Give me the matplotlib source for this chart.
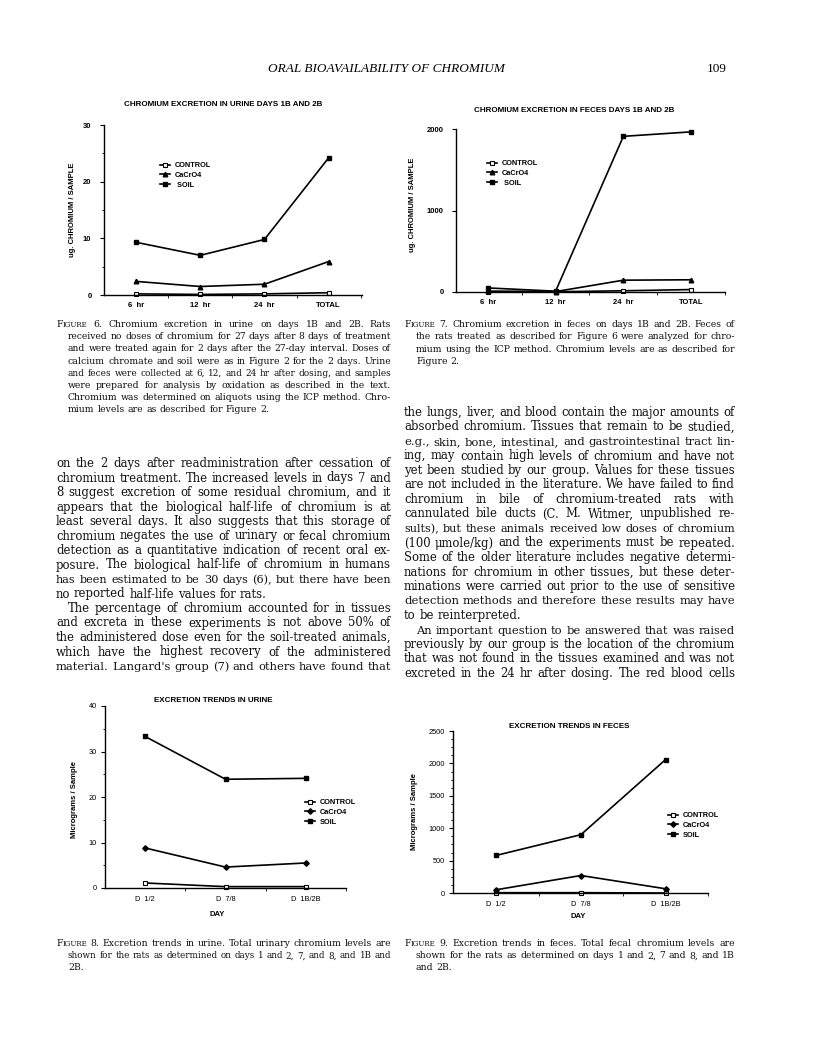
import matplotlib
matplotlib.use('Agg')
import matplotlib.pyplot as plt
from matplotlib.ticker import MultipleLocator, FixedLocator
import numpy as np

W, H = 816, 1043

# ---- data ----
hours = ['6  hr', '12  hr', '24  hr', 'TOTAL']
urine_control = [0.2, 0.1, 0.2, 0.4]
urine_cacro4 = [2.4, 1.5, 1.9, 5.9]
urine_soil = [9.3, 7.0, 9.8, 24.2]

feces_control = [5, 3, 15, 30]
feces_cacro4 = [10, 5, 145, 150]
feces_soil = [50, 10, 1910, 1965]

days = ['D  1/2', 'D  7/8', 'D  1B/2B']
trend_urine_control = [1.1, 0.3, 0.3]
trend_urine_cacro4 = [8.8, 4.6, 5.5]
trend_urine_soil = [33.3, 23.9, 24.1]

trend_feces_control = [5, 5, 0]
trend_feces_cacro4 = [50, 270, 65]
trend_feces_soil = [580, 900, 2060]

# ---- page text ----
header = 'ORAL BIOAVAILABILITY OF CHROMIUM'
page_no = '109'

cap6 = ['FIGURE 6. Chromium excretion in urine on days 1B and 2B. Rats',
        'received no doses of chromium for 27 days after 8 days of treatment',
        'and were treated again for 2 days after the 27-day interval. Doses of',
        'calcium chromate and soil were as in Figure 2 for the 2 days. Urine',
        'and feces were collected at 6, 12, and 24 hr after dosing, and samples',
        'were prepared for analysis by oxidation as described in the text.',
        'Chromium was determined on aliquots using the ICP method. Chro-',
        'mium levels are as described for Figure 2.']
cap7 = ['FIGURE 7. Chromium excretion in feces on days 1B and 2B. Feces of',
        'the rats treated as described for Figure 6 were analyzed for chro-',
        'mium using the ICP method. Chromium levels are as described for',
        'Figure 2.']
cap8 = ['FIGURE 8. Excretion trends in urine. Total urinary chromium levels are',
        'shown for the rats as determined on days 1 and 2, 7, and 8, and 1B and',
        '2B.']
cap9 = ['FIGURE 9. Excretion trends in feces. Total fecal chromium levels are',
        'shown for the rats as determined on days 1 and 2, 7 and 8, and 1B',
        'and 2B.']

body_left = ['on the 2 days after readministration after cessation of',
             'chromium treatment. The increased levels in days 7 and',
             '8 suggest excretion of some residual chromium, and it',
             'appears that the biological half-life of chromium is at',
             'least several days. It also suggests that this storage of',
             'chromium negates the use of urinary or fecal chromium',
             'detection as a quantitative indication of recent oral ex-',
             'posure. The biological half-life of chromium in humans',
             'has been estimated to be 30 days (6), but there have been',
             'no reported half-life values for rats.',
             'The percentage of chromium accounted for in tissues',
             'and excreta in these experiments is not above 50% of',
             'the administered dose even for the soil-treated animals,',
             'which have the highest recovery of the administered',
             "material. Langard's group (7) and others have found that"]
body_right = ['the lungs, liver, and blood contain the major amounts of',
              'absorbed chromium. Tissues that remain to be studied,',
              'e.g., skin, bone, intestinal, and gastrointestinal tract lin-',
              'ing, may contain high levels of chromium and have not',
              'yet been studied by our group. Values for these tissues',
              'are not included in the literature. We have failed to find',
              'chromium in bile of chromium-treated rats with',
              'cannulated bile ducts (C. M. Witmer, unpublished re-',
              'sults), but these animals received low doses of chromium',
              '(100 \u03bcmole/kg) and the experiments must be repeated.',
              'Some of the older literature includes negative determi-',
              'nations for chromium in other tissues, but these deter-',
              'minations were carried out prior to the use of sensitive',
              'detection methods and therefore these results may have',
              'to be reinterpreted.',
              'An important question to be answered that was raised',
              'previously by our group is the location of the chromium',
              'that was not found in the tissues examined and was not',
              'excreted in the 24 hr after dosing. The red blood cells']

fig = plt.figure(figsize=(W / 100, H / 100), dpi=100)
fig.patch.set_facecolor('white')
renderer = fig.canvas.get_renderer()

SERIF = 'DejaVu Serif'
SANS = 'Liberation Sans'
SC = 0.76  # small caps scale for FIGURE


def fx(x):
    return x / W


def fy(y):
    return 1 - y / H


def measure(txt, size):
    t = fig.text(0, 0, txt, fontsize=size, family=SERIF)
    w = t.get_window_extent(renderer).width
    t.remove()
    return w


def word_parts(w, size):
    if w == 'FIGURE':
        return [('F', size), ('IGURE', size * SC)]
    return [(w, size)]


def natural(line, size):
    words = line.split()
    sp = measure('a a', size) - measure('aa', size)
    tot = 0
    for w in words:
        for txt, s in word_parts(w, size):
            tot += measure(txt, s)
    return tot + sp * (len(words) - 1)


def put_line(line, x0, x1, y, size, justify):
    # draw a line word by word so it can be justified between x0 and x1
    sp = measure('a a', size) - measure('aa', size)
    if justify and natural(line, size) > (x1 - x0) * 0.995:
        size = size * (x1 - x0) * 0.99 / natural(line, size)
        sp = measure('a a', size) - measure('aa', size)
    groups = []
    for w in line.split():
        arts = []
        width = 0
        for txt, s in word_parts(w, size):
            t = fig.text(0, fy(y), txt, fontsize=s, family=SERIF,
                         ha='left', va='baseline', color='#111111')
            arts.append((t, width))
            width += t.get_window_extent(renderer).width
        groups.append((arts, width))
    total = sum(g[1] for g in groups)
    if justify and len(groups) > 1:
        gap = (x1 - x0 - total) / (len(groups) - 1)
    else:
        gap = sp
    x = x0
    for arts, width in groups:
        for t, off in arts:
            t.set_x(fx(x + off))
        x += width + gap


def left_edge(i, x0, hang, indents):
    left = x0 + (hang if i > 0 else 0)
    if i in indents:
        left += 12
    return left


def fit_size(blocks, s0=10.0, q=30):
    # size at which a typical justified line fills its column
    ratios = []
    for lines, x0, x1, hang, last_lines, indents in blocks:
        for i, line in enumerate(lines):
            if i in last_lines:
                continue
            avail = x1 - left_edge(i, x0, hang, indents)
            ratios.append(avail / natural(line, s0))
    return s0 * np.percentile(ratios, q)


def paragraph(lines, x0, x1, y0, step, size, hang=0, last_lines=(),
              indents=()):
    for i, line in enumerate(lines):
        put_line(line, left_edge(i, x0, hang, indents), x1, y0 + i * step,
                 size, i not in last_lines)


LX0, LX1 = 56, 391
RX0, RX1 = 404, 735

cap_blocks = [(cap6, LX0, LX1, 12, (7,), ()),
              (cap7, RX0, RX1, 12, (3,), ()),
              (cap8, LX0, LX1, 12, (2,), ()),
              (cap9, RX0, RX1, 12, (2,), ())]
body_blocks = [(body_left, LX0, LX1, 0, (9,), (10,)),
               (body_right, RX0, RX1, 0, (14,), (15,))]
cap_size = fit_size(cap_blocks)
body_size = fit_size(body_blocks)

fig.text(fx(386), fy(72), header, fontsize=9.5, family='Liberation Serif',
         style='italic', ha='center', va='baseline')
fig.text(fx(727), fy(72), page_no, fontsize=9.5, family='Liberation Serif',
         ha='right', va='baseline')

paragraph(cap6, LX0, LX1, 327, 12.2, cap_size, hang=12, last_lines=(7,))
paragraph(cap7, RX0, RX1, 327, 12.3, cap_size, hang=12, last_lines=(3,))
paragraph(cap8, LX0, LX1, 946, 12.2, cap_size, hang=12, last_lines=(2,))
paragraph(cap9, RX0, RX1, 946, 12.2, cap_size, hang=12, last_lines=(2,))
paragraph(body_left, LX0, LX1, 467, 14.5, body_size, last_lines=(9,),
          indents=(10,))
paragraph(body_right, RX0, RX1, 416, 14.5, body_size, last_lines=(14,),
          indents=(15,))


def add_ax(x0, x1, ytop, ybot):
    ax = fig.add_axes([fx(x0), fy(ybot), (x1 - x0) / W, (ybot - ytop) / H])
    for s in ['top', 'right']:
        ax.spines[s].set_visible(False)
    for s in ['left', 'bottom']:
        ax.spines[s].set_linewidth(1.0)
    ax.patch.set_alpha(0)
    return ax


def plot_series(ax, x, control, cacro, soil, cac_marker, cac_ms, soil_label):
    ax.plot(x, control, '-', color='black', lw=1.2, marker='s', ms=3.2,
            mfc='white', mec='black', mew=0.8, label='CONTROL', clip_on=False)
    ax.plot(x, cacro, '-', color='black', lw=1.2, marker=cac_marker,
            ms=cac_ms, mfc='black', mec='black', label='CaCrO4',
            clip_on=False)
    ax.plot(x, soil, '-', color='black', lw=1.2, marker='s', ms=3.5,
            mfc='black', mec='black', label=soil_label, clip_on=False)


def legend(ax, left, top):
    ax.legend(loc='upper left', bbox_to_anchor=(fx(left), fy(top)),
              bbox_transform=fig.transFigure, frameon=False,
              handlelength=1.3, handletextpad=0.7, labelspacing=0.35,
              borderpad=0, borderaxespad=0,
              prop={'family': SANS, 'weight': 'bold', 'size': 5.3})


# ---- Figure 6: urine ----
ax6 = add_ax(104, 362, 125, 295)
x = list(range(len(hours)))
plot_series(ax6, x, urine_control, urine_cacro4, urine_soil, '^', 3.3,
            ' SOIL')
ax6.set_xlim(-0.5, 3.52)
ax6.set_ylim(0, 30)
ax6.set_yticks([0, 10, 20, 30])
ax6.yaxis.set_minor_locator(MultipleLocator(5))
ax6.set_xticks(x)
ax6.set_xticklabels(hours)
ax6.xaxis.set_minor_locator(FixedLocator([0.5, 1.5, 2.5, 3.5]))
legend(ax6, 160, 162)
fig.text(fx(223), fy(105), 'CHROMIUM EXCRETION IN URINE DAYS 1B AND 2B',
         fontsize=5.8, family=SANS, weight='bold', ha='center', va='center')
fig.text(fx(73), fy(210), 'ug. CHROMIUM / SAMPLE', fontsize=5.5,
         family=SANS, weight='bold', rotation=90, ha='center', va='center')

# ---- Figure 7: feces ----
ax7 = add_ax(456, 725, 129, 292)
plot_series(ax7, x, feces_control, feces_cacro4, feces_soil, '^', 3.3,
            ' SOIL')
ax7.set_xlim(-0.47, 3.5)
ax7.set_ylim(0, 2000)
ax7.set_yticks([0, 1000, 2000])
ax7.set_xticks(x)
ax7.set_xticklabels(hours)
ax7.xaxis.set_minor_locator(FixedLocator([0.5, 1.5, 2.5, 3.5]))
legend(ax7, 487, 160)
fig.text(fx(574), fy(111), 'CHROMIUM EXCRETION IN FECES DAYS 1B AND 2B',
         fontsize=5.8, family=SANS, weight='bold', ha='center', va='center')
fig.text(fx(413), fy(205), 'ug. CHROMIUM / SAMPLE', fontsize=5.5,
         family=SANS, weight='bold', rotation=90, ha='center', va='center')

for ax in (ax6, ax7):
    ax.tick_params(axis='y', which='major', length=3, width=0.8,
                   labelsize=5.5, pad=6)
    ax.tick_params(axis='y', which='minor', length=1.5, width=0.6)
    ax.tick_params(axis='x', which='major', length=0, labelsize=5.5, pad=5)
    ax.tick_params(axis='x', which='minor', length=2, width=0.6)
    for lab in ax.get_xticklabels() + ax.get_yticklabels():
        lab.set_family(SANS)
        lab.set_weight('bold')

# ---- Figure 8: urine trends ----
xd = list(range(len(days)))
ax8 = add_ax(105, 346, 706, 888)
plot_series(ax8, xd, trend_urine_control, trend_urine_cacro4,
            trend_urine_soil, 'D', 2.8, 'SOIL')
ax8.set_xlim(-0.5, 2.5)
ax8.set_ylim(0, 40)
ax8.set_yticks([0, 10, 20, 30, 40])
ax8.yaxis.set_minor_locator(MultipleLocator(5))
ax8.set_xticks(xd)
ax8.set_xticklabels(days)
ax8.xaxis.set_minor_locator(FixedLocator([0.5, 1.5, 2.5]))
legend(ax8, 305, 799)
fig.text(fx(213), fy(700), 'EXCRETION TRENDS IN URINE', fontsize=5.8,
         family=SANS, weight='bold', ha='center', va='center')
fig.text(fx(75), fy(800), 'Micrograms / Sample', fontsize=5.5,
         family=SANS, weight='bold', rotation=90, ha='center', va='center')
fig.text(fx(217), fy(914), 'DAY', fontsize=5.5, family=SANS,
         weight='bold', ha='center', va='center')

# ---- Figure 9: feces trends ----
ax9 = add_ax(453, 708, 731, 893)
plot_series(ax9, xd, trend_feces_control, trend_feces_cacro4,
            trend_feces_soil, 'D', 2.8, 'SOIL')
ax9.set_xlim(-0.51, 2.5)
ax9.set_ylim(0, 2500)
ax9.set_yticks([0, 500, 1000, 1500, 2000, 2500])
ax9.yaxis.set_minor_locator(MultipleLocator(125))
ax9.set_xticks(xd)
ax9.set_xticklabels(days)
ax9.xaxis.set_minor_locator(FixedLocator([0.5, 1.5, 2.5]))
legend(ax9, 668, 812)
fig.text(fx(569), fy(727), 'EXCRETION TRENDS IN FECES', fontsize=5.8,
         family=SANS, weight='bold', ha='center', va='center')
fig.text(fx(415), fy(812), 'Micrograms / Sample', fontsize=5.5,
         family=SANS, weight='bold', rotation=90, ha='center', va='center')
fig.text(fx(578), fy(917), 'DAY', fontsize=5.5, family=SANS,
         weight='bold', ha='center', va='center')

for ax in (ax8, ax9):
    ax.tick_params(axis='y', which='major', length=3, width=0.8,
                   labelsize=5.3, pad=3)
    ax.tick_params(axis='y', which='minor', length=1.5, width=0.6)
    ax.tick_params(axis='x', which='major', length=0, labelsize=5.3, pad=6)
    ax.tick_params(axis='x', which='minor', length=2, width=0.6)
    for lab in ax.get_xticklabels() + ax.get_yticklabels():
        lab.set_family(SANS)

fig.savefig('out.png', dpi=100, facecolor='white')
